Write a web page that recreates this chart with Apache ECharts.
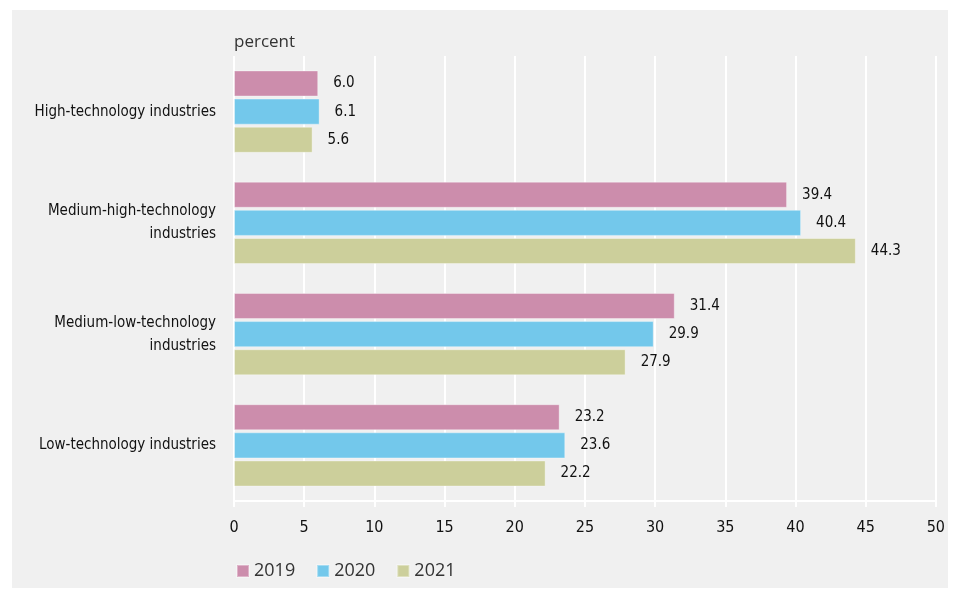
<!DOCTYPE html>
<html><head><meta charset="utf-8">
<script src="https://cdn.jsdelivr.net/npm/echarts@6/dist/echarts.min.js"></script>
<style>html,body{margin:0;padding:0;background:#fff}#c{position:absolute;left:12px;top:10px;width:936px;height:578px;background:#f0f0f0}</style>
</head><body><div id="c"></div>
<script>
const categories = ['High-technology industries', 'Medium-high-technology\nindustries', 'Medium-low-technology\nindustries', 'Low-technology industries'];
const years = ['2019', '2020', '2021'];
const v2019 = [6.0, 39.4, 31.4, 23.2];
const v2020 = [6.1, 40.4, 29.9, 23.6];
const v2021 = [5.6, 44.3, 27.9, 22.2];
const xTicks = [0, 5, 10, 15, 20, 25, 30, 35, 40, 45, 50];
const colors = ['#cc8dac', '#73c8eb', '#cccf9b'];
const cond = "'Liberation Sans Narrow','DejaVu Sans Condensed',sans-serif";
const chart = echarts.init(document.getElementById('c'));
const mk = (name, data, i) => ({
  name, type: 'bar', data, barGap: '8%', barCategoryGap: '26%',
  itemStyle: {color: colors[i], borderColor: 'rgba(255,255,255,0.35)', borderWidth: 1},
  label: {show: true, position: 'right', distance: 15, color: '#111', fontSize: 15, fontFamily: cond,
    formatter: p => p.value.toFixed(1)}
});
chart.setOption({
  backgroundColor: '#f0f0f0',
  animation: false,
  grid: {left: 222, right: 9, top: 46, bottom: 87, containLabel: false},
  legend: {data: years, left: 219, bottom: 3, itemWidth: 12, itemHeight: 12, itemGap: 21,
    icon: 'rect', textStyle: {fontSize: 18, color: '#333', fontFamily: "'Open Sans',sans-serif"}},
  xAxis: {type: 'value', min: xTicks[0], max: xTicks[xTicks.length-1], interval: 5,
    axisLine: {show: true, lineStyle: {color: '#fff', width: 2}},
    axisTick: {show: true, length: 6, lineStyle: {color: '#fff', width: 2}},
    axisLabel: {color: '#111', fontSize: 16, fontFamily: cond, margin: 19},
    splitLine: {show: true, lineStyle: {color: '#fff', width: 2}}},
  yAxis: {type: 'category', data: categories, inverse: true,
    name: 'percent', nameLocation: 'start', nameGap: 5,
    nameTextStyle: {align: 'left', verticalAlign: 'bottom', color: '#333', fontSize: 17, fontFamily: "'Open Sans',sans-serif", padding: [0,0,0,0]},
    axisLine: {show: false}, axisTick: {show: false},
    axisLabel: {color: '#111', fontSize: 15, fontFamily: cond, margin: 18, align: 'right', lineHeight: 23}},
  series: [mk(years[0], v2019, 0), mk(years[1], v2020, 1), mk(years[2], v2021, 2)]
});
</script></body></html>
